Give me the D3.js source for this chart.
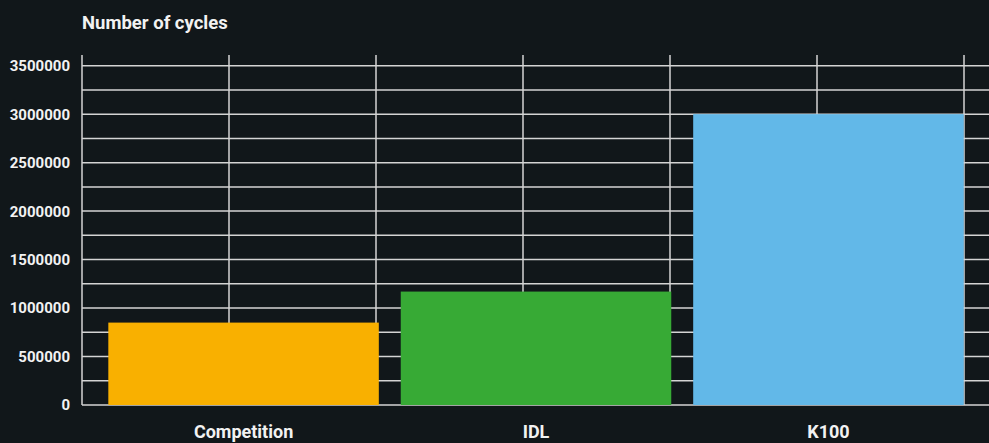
<!DOCTYPE html>
<html>
<head>
<meta charset="utf-8">
<script src="https://cdn.jsdelivr.net/npm/d3@7"></script>
<style>
  html, body { margin: 0; padding: 0; background: #11171a; }
  svg { display: block; }
  text { font-family: Roboto, "Noto Sans", sans-serif; font-weight: 700; fill: #f2f2f2; }
</style>
</head>
<body>
<svg id="chart"></svg>
<script>
const categories = ["Competition", "IDL", "K100"];
const cycles = [850000, 1170000, 3000000];
const colors = ["#f9b000", "#37aa35", "#62b8e8"];
const yTicks = [0, 500000, 1000000, 1500000, 2000000, 2500000, 3000000, 3500000];

const width = 989, height = 443;
const plotLeft = 82, plotTop = 65.7, plotBottom = 405;

const svg = d3.select("#chart")
    .attr("width", width)
    .attr("height", height);

const y = d3.scaleLinear().domain([0, 3500000]).range([plotBottom, plotTop]);

const x = d3.scaleBand()
    .domain(categories)
    .range([plotLeft, 990])
    .paddingInner(0.075)
    .paddingOuter(0.09);

// vertical grid, evenly spaced across the plot
const xGrid = d3.scaleLinear().domain([0, 6]).range([plotLeft, 964]);

const grid = svg.append("g").attr("stroke", "#d4d4d4").attr("stroke-width", 1.5);

grid.selectAll(".h")
    .data(d3.range(0, 3500001, 250000))
    .enter()
    .append("line")
    .attr("x1", plotLeft)
    .attr("x2", width)
    .attr("y1", d => y(d))
    .attr("y2", d => y(d));

grid.selectAll(".v")
    .data(d3.range(0, 7))
    .enter()
    .append("line")
    .attr("x1", d => xGrid(d))
    .attr("x2", d => xGrid(d))
    .attr("y1", 55)
    .attr("y2", plotBottom);

// bars
svg.selectAll(".bar")
    .data(categories)
    .enter()
    .append("rect")
    .attr("x", d => x(d))
    .attr("width", x.bandwidth())
    .attr("y", (d, i) => y(cycles[i]))
    .attr("height", (d, i) => plotBottom - y(cycles[i]))
    .attr("fill", (d, i) => colors[i]);

// y labels
svg.append("g")
    .selectAll("text")
    .data(yTicks)
    .enter()
    .append("text")
    .attr("x", 70)
    .attr("y", d => y(d))
    .attr("dy", "0.36em")
    .attr("text-anchor", "end")
    .style("font-size", "15px")
    .text(d => d);

// x labels
svg.append("g")
    .selectAll("text")
    .data(categories)
    .enter()
    .append("text")
    .attr("x", d => x(d) + x.bandwidth() / 2)
    .attr("y", 438)
    .attr("text-anchor", "middle")
    .style("font-size", "18px")
    .text(d => d);

svg.append("text")
    .attr("x", 82)
    .attr("y", 28.5)
    .style("font-size", "18.5px")
    .text("Number of cycles");
</script>
</body>
</html>
